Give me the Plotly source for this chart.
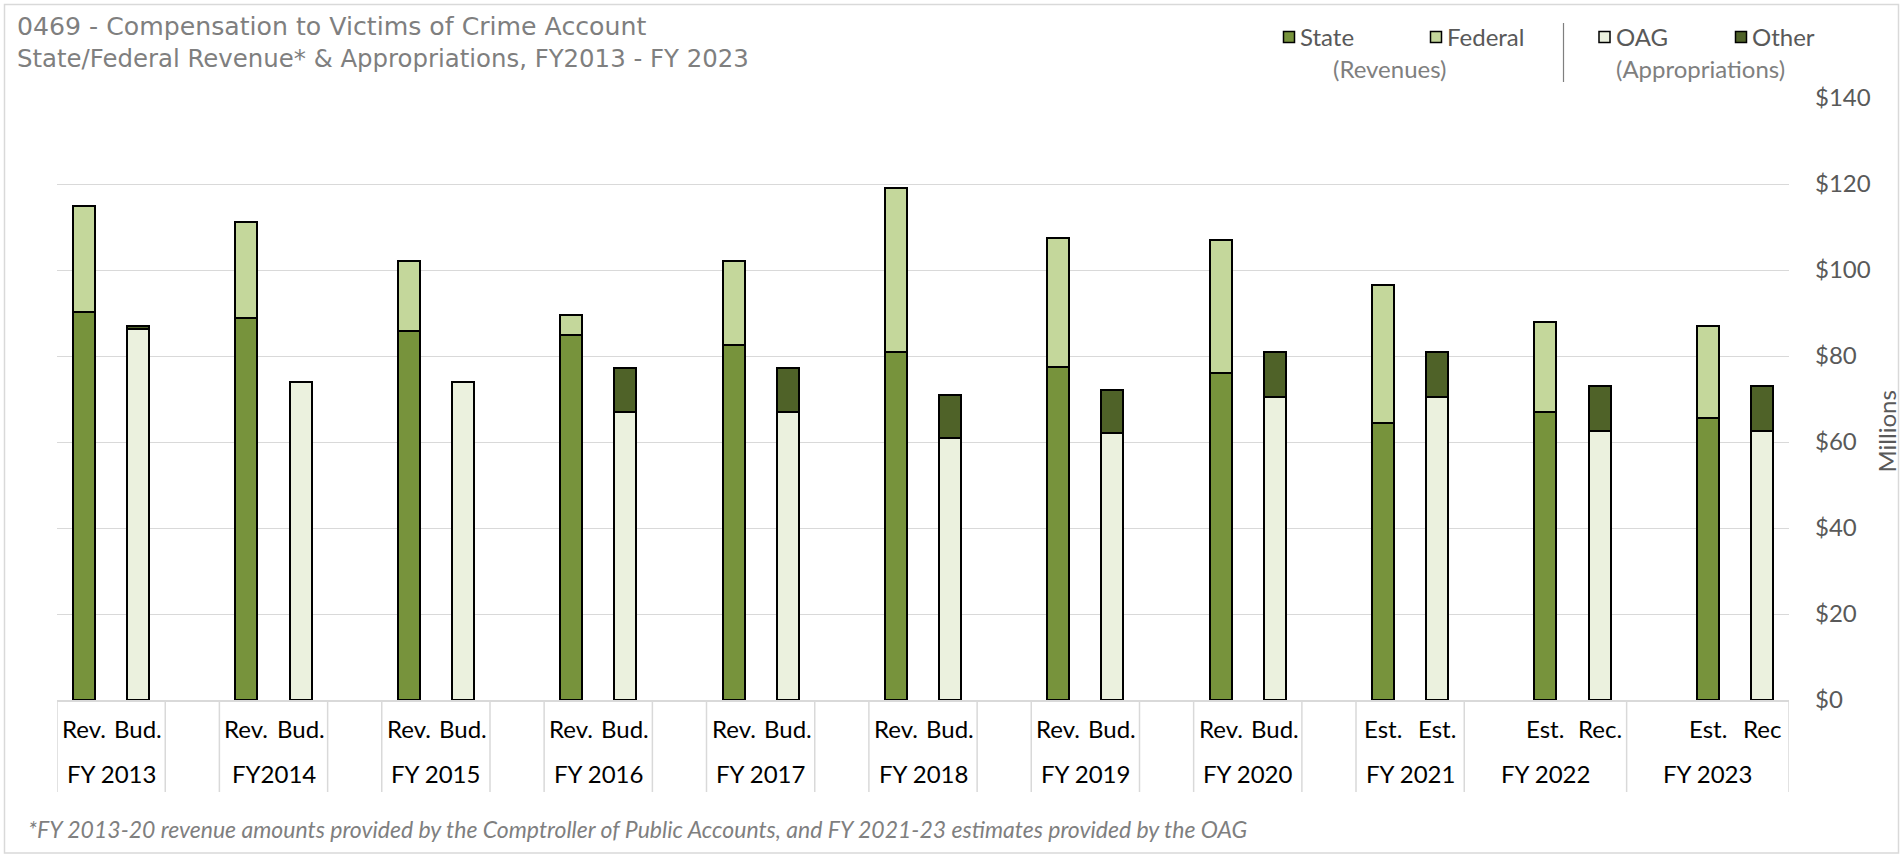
import plotly.graph_objects as go

# Fiscal years and the two bar labels under each year
years = ["FY 2013", "FY2014", "FY 2015", "FY 2016", "FY 2017", "FY 2018",
         "FY 2019", "FY 2020", "FY 2021", "FY 2022", "FY 2023"]
rev_labels = ["Rev."] * 8 + ["Est.", "Est.", "Est."]
bud_labels = ["Bud."] * 8 + ["Est.", "Rec.", "Rec"]

# Revenues ($ millions)
state = [90.3, 88.9, 85.9, 85.0, 82.5, 81.0, 77.5, 76.0, 64.5, 67.0, 65.5]
federal = [24.6, 22.3, 16.2, 4.5, 19.7, 38.0, 30.0, 31.0, 32.0, 21.0, 21.5]

# Appropriations ($ millions)
oag = [86.2, 74.0, 74.0, 67.0, 67.0, 61.0, 62.0, 70.5, 70.5, 62.5, 62.5]
other = [0.7, 0.0, 0.0, 10.3, 10.3, 10.0, 10.0, 10.5, 10.5, 10.5, 10.5]

C_STATE, C_FED, C_OAG, C_OTHER = "#77933C", "#C4D79B", "#EBF1DE", "#4F6228"
GRID = "#D9D9D9"
FONT = "Lato"

W, H = 1903, 858
L, R, T, B = 57, 114, 98, 158
PW, PH = W - L - R, H - T - B


def px(x):
    return (x - L) / PW


def py(y):
    return (H - B - y) / PH


# Category slots: FY 2013-2020 are followed by their own blank spacer cell,
# FY 2021 has none, FY 2022-2023 carry a leading blank inside the year cell.
x_rev, x_bud, cells = [], [], []
pos = 0
for i, yr in enumerate(years):
    if i < 8:
        x_rev.append(pos)
        x_bud.append(pos + 1)
        cells.append((pos - 0.5, pos + 1.5, yr))
        cells.append((pos + 1.5, pos + 2.5, ""))
        pos += 3
    elif i == 8:
        x_rev.append(pos)
        x_bud.append(pos + 1)
        cells.append((pos - 0.5, pos + 1.5, yr))
        pos += 2
    else:
        x_rev.append(pos + 1)
        x_bud.append(pos + 2)
        cells.append((pos - 0.5, pos + 2.5, yr))
        pos += 3
n_slots = pos

bar_line = dict(color="black", width=2)
bw = 0.405
fig = go.Figure()
fig.add_trace(go.Bar(x=x_rev, y=state, name="State", width=bw,
                     marker=dict(color=C_STATE, line=bar_line)))
fig.add_trace(go.Bar(x=x_rev, y=federal, name="Federal", width=bw,
                     marker=dict(color=C_FED, line=bar_line)))
fig.add_trace(go.Bar(x=x_bud, y=oag, name="OAG", width=bw,
                     marker=dict(color=C_OAG, line=bar_line)))
fig.add_trace(go.Bar(x=x_bud, y=other, name="Other", width=bw,
                     marker=dict(color=C_OTHER, line=bar_line)))

shapes = []
annotations = []

# Category cell dividers and labels
edges = sorted({c[0] for c in cells} | {c[1] for c in cells})
for e in edges:
    shapes.append(dict(type="line", xref="x", yref="paper", x0=e, x1=e,
                       y0=0, y1=py(792), line=dict(color=GRID, width=1.5)))
for x0, x1, lab in cells:
    if lab:
        annotations.append(dict(xref="x", yref="paper", x=(x0 + x1) / 2,
                                y=py(773), text=lab, showarrow=False,
                                xanchor="center", yanchor="middle",
                                font=dict(family=FONT, size=24, color="black")))
for xs, labs in ((x_rev, rev_labels), (x_bud, bud_labels)):
    for x, lab in zip(xs, labs):
        annotations.append(dict(xref="x", yref="paper", x=x, y=py(728),
                                text=lab, showarrow=False, xanchor="center",
                                yanchor="middle",
                                font=dict(family=FONT, size=24, color="black")))

# Title block
annotations.append(dict(xref="paper", yref="paper", x=px(15), y=py(27),
                        text="0469 - Compensation to Victims of Crime Account",
                        showarrow=False, xanchor="left", yanchor="middle",
                        font=dict(family="DejaVu Sans", size=25.2, color="#7F7F7F")))
annotations.append(dict(xref="paper", yref="paper", x=px(15), y=py(58),
                        text="State/Federal Revenue* & Appropriations, FY2013 - FY 2023",
                        showarrow=False, xanchor="left", yanchor="middle",
                        font=dict(family="DejaVu Sans", size=24.4, color="#7F7F7F")))

# Legend block
legend_items = [("State", C_STATE, 1289), ("Federal", C_FED, 1436),
                ("OAG", C_OAG, 1604.5), ("Other", C_OTHER, 1741)]
for name, col, cx in legend_items:
    s = 5.5
    shapes.append(dict(type="rect", xref="paper", yref="paper",
                       x0=px(cx - s), x1=px(cx + s), y0=py(37 + s), y1=py(37 - s),
                       fillcolor=col, line=dict(color="black", width=1.5)))
    annotations.append(dict(xref="paper", yref="paper", x=px(cx + 9), y=py(37),
                            text=name, showarrow=False, xanchor="left",
                            yanchor="middle",
                            font=dict(family=FONT, size=24, color="#595959")))
annotations.append(dict(xref="paper", yref="paper", x=px(1390), y=py(68),
                        text="(Revenues)", showarrow=False, xanchor="center",
                        yanchor="middle",
                        font=dict(family=FONT, size=24, color="#7F7F7F")))
annotations.append(dict(xref="paper", yref="paper", x=px(1700), y=py(68),
                        text="(Appropriations)", showarrow=False, xanchor="center",
                        yanchor="middle",
                        font=dict(family=FONT, size=24, color="#7F7F7F")))
shapes.append(dict(type="line", xref="paper", yref="paper", x0=px(1563.5),
                   x1=px(1563.5), y0=py(23), y1=py(82),
                   line=dict(color="#7F7F7F", width=1.2)))

# Axis title
annotations.append(dict(xref="paper", yref="paper", x=px(1902), y=py(432),
                        text="Millions", textangle=-90, showarrow=False,
                        xanchor="right", yanchor="middle",
                        font=dict(family=FONT, size=24, color="#595959")))

# Footnote
annotations.append(dict(xref="paper", yref="paper", x=px(26), y=py(829),
                        text="<i>*FY 2013-20 revenue amounts provided by the Comptroller "
                             "of Public Accounts, and FY 2021-23 estimates provided by the OAG</i>",
                        showarrow=False, xanchor="left", yanchor="middle",
                        font=dict(family=FONT, size=23, color="#7F7F7F")))

# Outer chart border
shapes.append(dict(type="rect", xref="paper", yref="paper",
                   x0=px(4.5), x1=px(1898.5), y0=py(853), y1=py(4.5),
                   line=dict(color=GRID, width=1.5), fillcolor="rgba(0,0,0,0)"))

fig.update_layout(
    width=W, height=H,
    margin=dict(l=L, r=R, t=T, b=B),
    barmode="stack",
    showlegend=False,
    plot_bgcolor="white",
    paper_bgcolor="white",
    shapes=shapes,
    annotations=annotations,
    xaxis=dict(range=[-0.5, n_slots - 0.5], showticklabels=False, ticks="",
               showgrid=False, zeroline=False, showline=True,
               linecolor=GRID, linewidth=1.5, fixedrange=True),
    yaxis=dict(side="right", range=[0, 140], dtick=20, tickprefix="$",
               showgrid=True, gridcolor=GRID, gridwidth=1.3, zeroline=False,
               showline=False, ticks="", ticklabelstandoff=25,
               tickfont=dict(family=FONT, size=24, color="#595959"),
               fixedrange=True),
)

fig.write_html("out.html")
